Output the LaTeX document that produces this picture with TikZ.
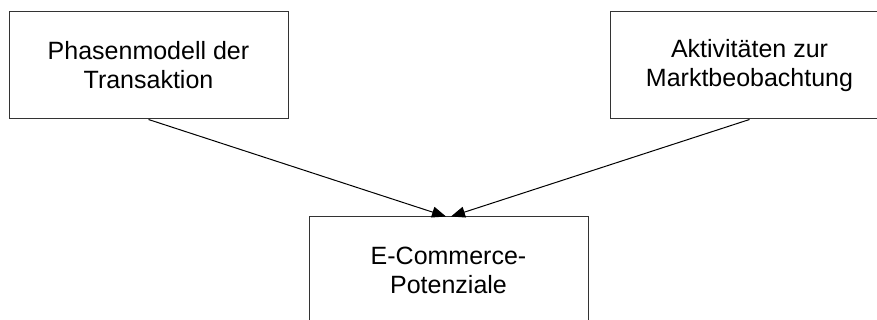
\documentclass[tikz,border=0pt]{standalone}
\usepackage{fontspec}
\setmainfont{Liberation Sans}
\usetikzlibrary{arrows.meta}
\begin{document}
\begin{tikzpicture}[x=1pt,y=-1pt,
  box/.style={draw=black!80,line width=1pt,minimum width=279pt,minimum height=107pt,
    align=center,inner sep=0pt,font=\fontsize{25}{29}\selectfont},
  conn/.style={line width=1pt,-{Triangle[length=14pt,width=11pt]}}]
\useasboundingbox (0,0) rectangle (877,320);
\clip (0,0) rectangle (877,320);
\fill[white] (0,0) rectangle (877,320);
\node[box] (a) at (148.5,65.5) {Phasenmodell der\\Transaktion};
\node[box] (b) at (749.5,65.5) {Aktivitäten zur\\Marktbeobachtung};
\node[box,minimum height=106pt] (c) at (448.5,270) {E-Commerce-\\Potenziale};
\coordinate (cl) at ([xshift=-2.5pt]c.north);
\coordinate (cr) at ([xshift=2.5pt]c.north);
\draw[conn] (a.south) -- (cl);
\draw[conn] (b.south) -- (cr);
\end{tikzpicture}
\end{document}
